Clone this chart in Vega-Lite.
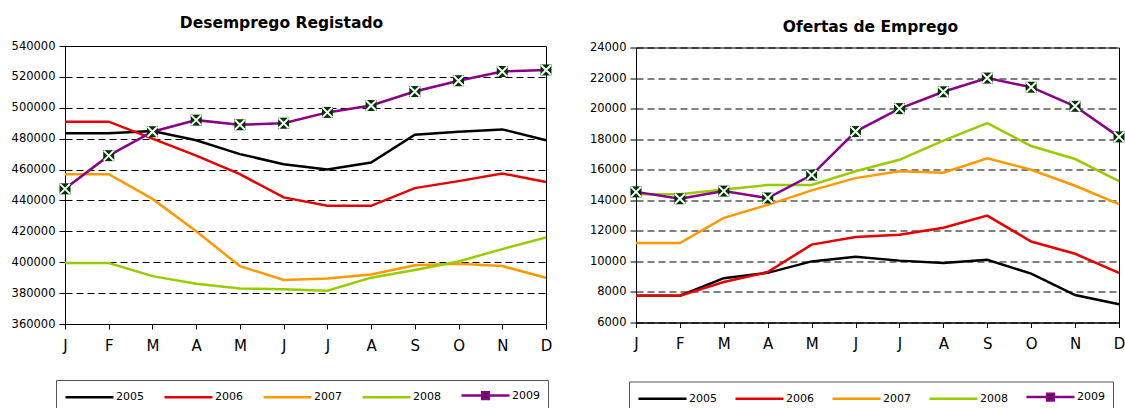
{
  "$schema": "https://vega.github.io/schema/vega-lite/v6.json",
  "padding": {"left": 10, "top": 15, "right": 4, "bottom": 0},
  "background": "white",
  "bounds": "flush",
  "spacing": 90,
  "center": true,
  "config": {
    "font": "DejaVu Sans",
    "view": {"stroke": "black", "strokeWidth": 1},
    "axis": {"labelFont": "DejaVu Sans", "labelColor": "black", "domainColor": "black", "tickColor": "black", "labelFontSize": 11.5, "tickSize": 6, "title": null},
    "title": {"font": "DejaVu Sans", "fontSize": 15.5, "fontWeight": "bold", "color": "black"},
    "legend": {"labelFont": "DejaVu Sans", "labelFontSize": 11, "labelColor": "black"}
  },
  "datasets": {
    "desemprego": [
      {"m": 1, "ano": "2005", "v": 483500}, {"m": 2, "ano": "2005", "v": 483500}, {"m": 3, "ano": "2005", "v": 485000}, {"m": 4, "ano": "2005", "v": 479000}, {"m": 5, "ano": "2005", "v": 470000}, {"m": 6, "ano": "2005", "v": 463500}, {"m": 7, "ano": "2005", "v": 460000}, {"m": 8, "ano": "2005", "v": 464500}, {"m": 9, "ano": "2005", "v": 482500}, {"m": 10, "ano": "2005", "v": 484500}, {"m": 11, "ano": "2005", "v": 486000}, {"m": 12, "ano": "2005", "v": 479000},
      {"m": 1, "ano": "2006", "v": 491000}, {"m": 2, "ano": "2006", "v": 491000}, {"m": 3, "ano": "2006", "v": 480000}, {"m": 4, "ano": "2006", "v": 469000}, {"m": 5, "ano": "2006", "v": 457000}, {"m": 6, "ano": "2006", "v": 442000}, {"m": 7, "ano": "2006", "v": 436500}, {"m": 8, "ano": "2006", "v": 436500}, {"m": 9, "ano": "2006", "v": 448000}, {"m": 10, "ano": "2006", "v": 452500}, {"m": 11, "ano": "2006", "v": 457500}, {"m": 12, "ano": "2006", "v": 452000},
      {"m": 1, "ano": "2007", "v": 457000}, {"m": 2, "ano": "2007", "v": 457000}, {"m": 3, "ano": "2007", "v": 441000}, {"m": 4, "ano": "2007", "v": 420000}, {"m": 5, "ano": "2007", "v": 397500}, {"m": 6, "ano": "2007", "v": 388500}, {"m": 7, "ano": "2007", "v": 389500}, {"m": 8, "ano": "2007", "v": 392000}, {"m": 9, "ano": "2007", "v": 398000}, {"m": 10, "ano": "2007", "v": 399000}, {"m": 11, "ano": "2007", "v": 397500}, {"m": 12, "ano": "2007", "v": 390000},
      {"m": 1, "ano": "2008", "v": 399500}, {"m": 2, "ano": "2008", "v": 399500}, {"m": 3, "ano": "2008", "v": 391000}, {"m": 4, "ano": "2008", "v": 386000}, {"m": 5, "ano": "2008", "v": 383000}, {"m": 6, "ano": "2008", "v": 382500}, {"m": 7, "ano": "2008", "v": 381500}, {"m": 8, "ano": "2008", "v": 390000}, {"m": 9, "ano": "2008", "v": 395000}, {"m": 10, "ano": "2008", "v": 400500}, {"m": 11, "ano": "2008", "v": 408500}, {"m": 12, "ano": "2008", "v": 416000},
      {"m": 1, "ano": "2009", "v": 447500}, {"m": 2, "ano": "2009", "v": 469000}, {"m": 3, "ano": "2009", "v": 484500}, {"m": 4, "ano": "2009", "v": 492000}, {"m": 5, "ano": "2009", "v": 489000}, {"m": 6, "ano": "2009", "v": 490000}, {"m": 7, "ano": "2009", "v": 497000}, {"m": 8, "ano": "2009", "v": 501500}, {"m": 9, "ano": "2009", "v": 510500}, {"m": 10, "ano": "2009", "v": 517500}, {"m": 11, "ano": "2009", "v": 523500}, {"m": 12, "ano": "2009", "v": 524500}
    ],
    "ofertas": [
      {"m": 1, "ano": "2005", "v": 7750}, {"m": 2, "ano": "2005", "v": 7750}, {"m": 3, "ano": "2005", "v": 8900}, {"m": 4, "ano": "2005", "v": 9250}, {"m": 5, "ano": "2005", "v": 10000}, {"m": 6, "ano": "2005", "v": 10300}, {"m": 7, "ano": "2005", "v": 10050}, {"m": 8, "ano": "2005", "v": 9900}, {"m": 9, "ano": "2005", "v": 10100}, {"m": 10, "ano": "2005", "v": 9200}, {"m": 11, "ano": "2005", "v": 7800}, {"m": 12, "ano": "2005", "v": 7200},
      {"m": 1, "ano": "2006", "v": 7750}, {"m": 2, "ano": "2006", "v": 7750}, {"m": 3, "ano": "2006", "v": 8650}, {"m": 4, "ano": "2006", "v": 9300}, {"m": 5, "ano": "2006", "v": 11100}, {"m": 6, "ano": "2006", "v": 11600}, {"m": 7, "ano": "2006", "v": 11750}, {"m": 8, "ano": "2006", "v": 12200}, {"m": 9, "ano": "2006", "v": 13000}, {"m": 10, "ano": "2006", "v": 11300}, {"m": 11, "ano": "2006", "v": 10500}, {"m": 12, "ano": "2006", "v": 9250},
      {"m": 1, "ano": "2007", "v": 11200}, {"m": 2, "ano": "2007", "v": 11200}, {"m": 3, "ano": "2007", "v": 12850}, {"m": 4, "ano": "2007", "v": 13700}, {"m": 5, "ano": "2007", "v": 14650}, {"m": 6, "ano": "2007", "v": 15450}, {"m": 7, "ano": "2007", "v": 15900}, {"m": 8, "ano": "2007", "v": 15800}, {"m": 9, "ano": "2007", "v": 16750}, {"m": 10, "ano": "2007", "v": 16000}, {"m": 11, "ano": "2007", "v": 14950}, {"m": 12, "ano": "2007", "v": 13750},
      {"m": 1, "ano": "2008", "v": 14400}, {"m": 2, "ano": "2008", "v": 14400}, {"m": 3, "ano": "2008", "v": 14700}, {"m": 4, "ano": "2008", "v": 15000}, {"m": 5, "ano": "2008", "v": 15000}, {"m": 6, "ano": "2008", "v": 15900}, {"m": 7, "ano": "2008", "v": 16650}, {"m": 8, "ano": "2008", "v": 17900}, {"m": 9, "ano": "2008", "v": 19050}, {"m": 10, "ano": "2008", "v": 17550}, {"m": 11, "ano": "2008", "v": 16700}, {"m": 12, "ano": "2008", "v": 15250},
      {"m": 1, "ano": "2009", "v": 14550}, {"m": 2, "ano": "2009", "v": 14100}, {"m": 3, "ano": "2009", "v": 14600}, {"m": 4, "ano": "2009", "v": 14150}, {"m": 5, "ano": "2009", "v": 15650}, {"m": 6, "ano": "2009", "v": 18500}, {"m": 7, "ano": "2009", "v": 20000}, {"m": 8, "ano": "2009", "v": 21100}, {"m": 9, "ano": "2009", "v": 22000}, {"m": 10, "ano": "2009", "v": 21400}, {"m": 11, "ano": "2009", "v": 20150}, {"m": 12, "ano": "2009", "v": 18150}
    ]
  },
  "hconcat": [
    {
      "width": 481,
      "height": 278,
      "title": {"text": "Desemprego Registado", "offset": 9, "dx": -24},
      "data": {"name": "desemprego"},
      "encoding": {
        "x": {"field": "m", "type": "ordinal", "scale": {"type": "point", "padding": 0}, "axis": {"labelAngle": 0, "labelPadding": 9, "labelFontSize": 15, "tickSize": 5, "labelExpr": "['J','F','M','A','M','J','J','A','S','O','N','D'][datum.value-1]"}},
        "y": {"field": "v", "type": "quantitative", "scale": {"domain": [360000, 540000], "nice": false, "zero": false}, "axis": {"values": [360000, 380000, 400000, 420000, 440000, 460000, 480000, 500000, 520000, 540000], "format": "d", "grid": true, "gridDash": [7, 4], "gridColor": "black", "gridWidth": 1, "labelPadding": 4}}
      },
      "layer": [
        {
          "mark": {"type": "line", "strokeWidth": 2.5},
          "encoding": {
            "color": {"field": "ano", "type": "nominal", "scale": {"domain": ["2005", "2006", "2007", "2008", "2009"], "range": ["#000000", "#e60000", "#ff9900", "#99cc00", "#880088"]},
              "legend": {"title": null, "orient": "none", "legendX": -9, "legendY": 334, "direction": "horizontal", "symbolType": "M-1,0H7", "symbolSize": 144, "symbolStrokeWidth": 2.5, "labelOffset": 37, "labelFontSize": 11, "columnPadding": 15, "padding": 8, "strokeColor": "#555555",
                "encode": {"symbols": {"update": {"shape": {"signal": "datum.value == '2009' ? 'M-1,0H7M2.45,-0.55H3.55V0.55H2.45Z' : 'M-1,0H7'"}, "fill": {"signal": "datum.value == '2009' ? '#003300' : 'transparent'"}}}}}}
          }
        },
        {
          "transform": [{"filter": "datum.ano == '2009'"}],
          "mark": {"type": "point", "shape": "square", "filled": true, "color": "#003300", "size": 121, "opacity": 1}
        },
        {
          "transform": [{"filter": "datum.ano == '2009'"}],
          "mark": {"type": "point", "shape": "M-1,-1L1,1M1,-1L-1,1", "filled": false, "stroke": "white", "strokeWidth": 2, "size": 100, "opacity": 1}
        }
      ]
    },
    {
      "width": 483,
      "height": 275,
      "title": {"text": "Ofertas de Emprego", "offset": 6, "dx": -7},
      "data": {"name": "ofertas"},
      "encoding": {
        "x": {"field": "m", "type": "ordinal", "scale": {"type": "point", "padding": 0}, "axis": {"labelAngle": 0, "labelPadding": 9, "labelFontSize": 15, "tickSize": 5, "labelExpr": "['J','F','M','A','M','J','J','A','S','O','N','D'][datum.value-1]"}},
        "y": {"field": "v", "type": "quantitative", "scale": {"domain": [6000, 24000], "nice": false, "zero": false}, "axis": {"values": [6000, 8000, 10000, 12000, 14000, 16000, 18000, 20000, 22000, 24000], "format": "d", "grid": true, "gridDash": [7, 4], "gridColor": "black", "gridWidth": 1, "labelPadding": 4}}
      },
      "layer": [
        {
          "mark": {"type": "line", "strokeWidth": 2.5},
          "encoding": {
            "color": {"field": "ano", "type": "nominal", "scale": {"domain": ["2005", "2006", "2007", "2008", "2009"], "range": ["#000000", "#e60000", "#ff9900", "#99cc00", "#880088"]},
              "legend": {"title": null, "orient": "none", "legendX": -7, "legendY": 334, "direction": "horizontal", "symbolType": "M-1,0H7", "symbolSize": 144, "symbolStrokeWidth": 2.5, "labelOffset": 37, "labelFontSize": 11, "columnPadding": 13, "padding": 8, "strokeColor": "#555555",
                "encode": {"symbols": {"update": {"shape": {"signal": "datum.value == '2009' ? 'M-1,0H7M2.45,-0.55H3.55V0.55H2.45Z' : 'M-1,0H7'"}, "fill": {"signal": "datum.value == '2009' ? '#003300' : 'transparent'"}}}}}}
          }
        },
        {
          "transform": [{"filter": "datum.ano == '2009'"}],
          "mark": {"type": "point", "shape": "square", "filled": true, "color": "#003300", "size": 121, "opacity": 1}
        },
        {
          "transform": [{"filter": "datum.ano == '2009'"}],
          "mark": {"type": "point", "shape": "M-1,-1L1,1M1,-1L-1,1", "filled": false, "stroke": "white", "strokeWidth": 2, "size": 100, "opacity": 1}
        }
      ]
    }
  ],
  "resolve": {"scale": {"y": "independent", "color": "independent"}, "legend": {"color": "independent"}}
}
